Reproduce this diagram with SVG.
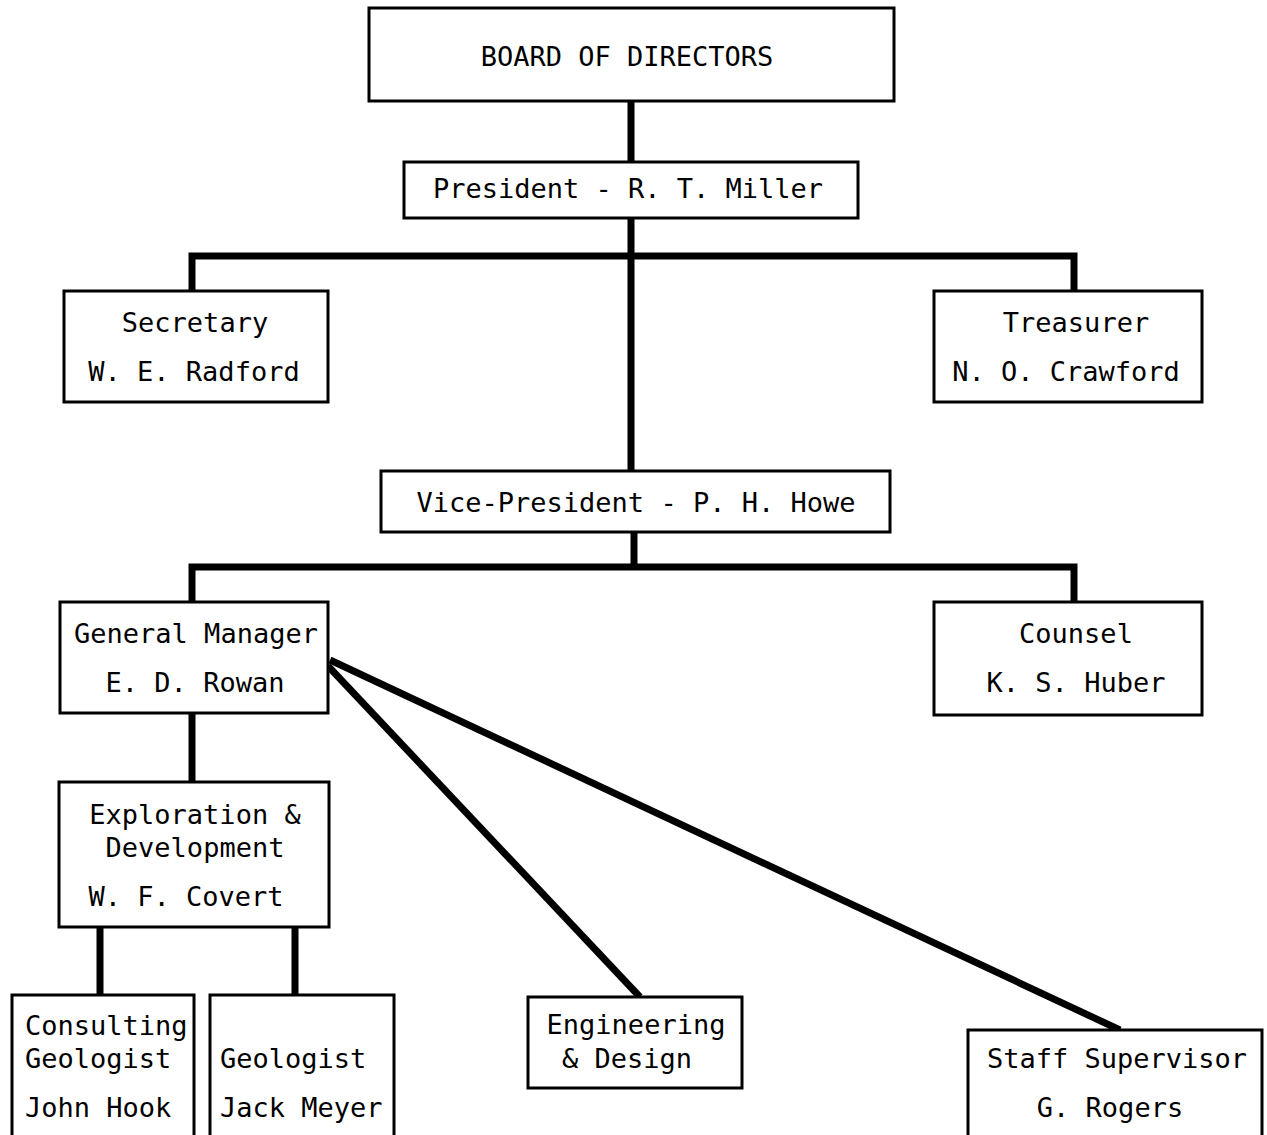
<svg xmlns="http://www.w3.org/2000/svg" width="1267" height="1135" viewBox="0 0 1267 1135">
<style>
.box{fill:#fff;stroke:#000;stroke-width:3}
.t{font-family:"DejaVu Sans Mono","Liberation Mono",monospace;font-size:27px;fill:#000}
.m{text-anchor:middle}
.c{fill:none;stroke:#000;stroke-width:7}
</style>
<rect width="1267" height="1135" fill="#fff"/>
<g id="connectors">
<path class="c" d="M631 101V162"/>
<path class="c" d="M631 218V471"/>
<path class="c" d="M192 291V256H1074V291"/>
<path class="c" d="M634 532V567"/>
<path class="c" d="M192 602V567H1074V602"/>
<path class="c" d="M192 713V782"/>
<path class="c" d="M100 927V995"/>
<path class="c" d="M295 927V995"/>
<path class="c" d="M328 666L640 997"/>
<path class="c" d="M330 660L1120 1030"/>
</g>
<g id="board"><rect class="box" x="369" y="8" width="525" height="93"/><text class="t m" x="627" y="66">BOARD OF DIRECTORS</text></g>
<g id="president"><rect class="box" x="404" y="162" width="454" height="56"/><text class="t m" x="628" y="198">President - R. T. Miller</text></g>
<g id="secretary"><rect class="box" x="64" y="291" width="264" height="111"/><text class="t m" x="195" y="332">Secretary</text><text class="t m" x="194" y="381">W. E. Radford</text></g>
<g id="treasurer"><rect class="box" x="934" y="291" width="268" height="111"/><text class="t m" x="1076" y="332">Treasurer</text><text class="t m" x="1066" y="381">N. O. Crawford</text></g>
<g id="vice-president"><rect class="box" x="381" y="471" width="509" height="61"/><text class="t m" x="636" y="512">Vice-President - P. H. Howe</text></g>
<g id="general-manager"><rect class="box" x="60" y="602" width="268" height="111"/><text class="t m" x="196" y="643">General Manager</text><text class="t m" x="195" y="692">E. D. Rowan</text></g>
<g id="counsel"><rect class="box" x="934" y="602" width="268" height="113"/><text class="t m" x="1076" y="643">Counsel</text><text class="t m" x="1076" y="692">K. S. Huber</text></g>
<g id="exploration"><rect class="box" x="59" y="782" width="270" height="145"/><text class="t m" x="195" y="824">Exploration &amp;</text><text class="t m" x="195" y="857">Development</text><text class="t m" x="186" y="906">W. F. Covert</text></g>
<g id="consulting-geologist"><rect class="box" x="12" y="995" width="182" height="150"/><text class="t" x="25" y="1035">Consulting</text><text class="t" x="25" y="1068">Geologist</text><text class="t" x="25" y="1117">John Hook</text></g>
<g id="geologist"><rect class="box" x="210" y="995" width="184" height="150"/><text class="t" x="220" y="1068">Geologist</text><text class="t" x="220" y="1117">Jack Meyer</text></g>
<g id="engineering"><rect class="box" x="528" y="997" width="214" height="91"/><text class="t m" x="636" y="1034">Engineering</text><text class="t" x="562" y="1068">&amp; Design</text></g>
<g id="staff-supervisor"><rect class="box" x="968" y="1030" width="294" height="115"/><text class="t m" x="1117" y="1068">Staff Supervisor</text><text class="t m" x="1110" y="1117">G. Rogers</text></g>
</svg>
